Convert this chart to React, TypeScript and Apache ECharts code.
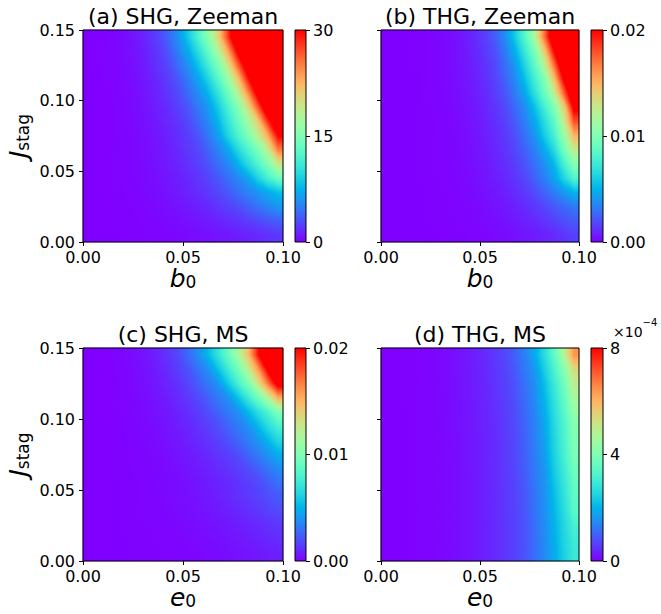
import React, { useEffect, useRef } from "react";
import * as echarts from "echarts";

// ---------- data ----------
// cell centres of the colour maps (20 columns in b0 / e0, 15 rows in J_stag)
const FIELD_CENTERS = [
  0.0025, 0.0075, 0.0125, 0.0175, 0.0225, 0.0275, 0.0325, 0.0375, 0.0425, 0.0475,
  0.0525, 0.0575, 0.0625, 0.0675, 0.0725, 0.0775, 0.0825, 0.0875, 0.0925, 0.0975,
];
const J_CENTERS = [
  0.005, 0.015, 0.025, 0.035, 0.045, 0.055, 0.065, 0.075, 0.085, 0.095, 0.105, 0.115,
  0.125, 0.135, 0.145,
];

const X_TICKS = [0, 0.05, 0.1];
const Y_TICKS = [0, 0.05, 0.1, 0.15];

// rows listed from top (J = 0.145) to bottom (J = 0.005)
// (a) SHG, Zeeman
const SHG_ZEEMAN = [
  [0, 0.02, 0.09, 0.24, 0.54, 0.96, 1.6, 2.5, 3.9, 5.8, 8.7, 12, 15.5, 20.5, 27.8, 36, 42, 48, 54, 60],
  [0, 0.02, 0.08, 0.22, 0.45, 0.84, 1.4, 2.1, 3.2, 5.0, 7.1, 10, 13.3, 17.5, 23.3, 31, 37, 43, 49, 55],
  [0, 0.02, 0.07, 0.19, 0.4, 0.72, 1.2, 1.9, 2.7, 4.2, 5.8, 8.3, 11.3, 14.7, 19.5, 26.3, 33, 39, 45, 51],
  [0, 0.01, 0.06, 0.16, 0.33, 0.63, 1.0, 1.6, 2.3, 3.3, 4.9, 6.7, 9.2, 12.5, 16.3, 21.5, 29, 36, 42, 48],
  [0, 0.01, 0.05, 0.14, 0.29, 0.54, 0.9, 1.35, 2.0, 2.8, 4.1, 5.5, 7.6, 10.4, 13.7, 18.1, 24.2, 31.5, 38, 44],
  [0, 0.01, 0.04, 0.12, 0.25, 0.45, 0.75, 1.2, 1.7, 2.4, 3.3, 4.7, 6.2, 8.7, 11.9, 15.1, 19.8, 26.5, 34, 40],
  [0, 0.01, 0.04, 0.1, 0.22, 0.39, 0.66, 1.0, 1.45, 2.0, 2.7, 4.0, 5.4, 7.6, 10.5, 13.4, 16.9, 21.2, 28.3, 34],
  [0, 0.01, 0.03, 0.09, 0.19, 0.33, 0.57, 0.87, 1.26, 1.74, 2.3, 3.2, 4.65, 6.3, 9.3, 12, 14.7, 18.4, 23, 30],
  [0, 0.01, 0.03, 0.08, 0.16, 0.3, 0.48, 0.75, 1.1, 1.5, 2.1, 2.7, 3.8, 5.1, 6.8, 9.6, 12.1, 14.6, 18.5, 25],
  [0, 0.01, 0.02, 0.07, 0.14, 0.26, 0.44, 0.66, 1.0, 1.35, 1.83, 2.4, 3.15, 4.3, 5.4, 7.3, 9.8, 12.2, 15, 19],
  [0, 0, 0.02, 0.06, 0.12, 0.22, 0.36, 0.54, 0.81, 1.1, 1.5, 2.0, 2.55, 3.3, 4.3, 5.3, 6.75, 9.2, 11.6, 13.8],
  [0, 0, 0.02, 0.05, 0.1, 0.18, 0.3, 0.45, 0.66, 0.93, 1.26, 1.65, 2.1, 2.7, 3.4, 4.3, 5.1, 5.9, 7.0, 8.0],
  [0, 0, 0.01, 0.03, 0.07, 0.13, 0.22, 0.33, 0.48, 0.69, 0.9, 1.2, 1.53, 1.95, 2.4, 2.94, 3.7, 4.5, 5.3, 6.1],
  [0, 0, 0.01, 0.02, 0.05, 0.09, 0.14, 0.22, 0.33, 0.45, 0.6, 0.78, 1.0, 1.26, 1.56, 1.9, 2.3, 2.75, 3.2, 3.7],
  [0, 0, 0.01, 0.01, 0.03, 0.05, 0.08, 0.12, 0.17, 0.24, 0.33, 0.43, 0.55, 0.7, 0.86, 1.05, 1.27, 1.5, 1.8, 2.1],
];

// (b) THG, Zeeman, in units of 1e-3
const THG_ZEEMAN_E3 = [
  [0, 0, 0, 0.02, 0.05, 0.12, 0.23, 0.4, 0.66, 1.04, 1.54, 2.4, 3.6, 5.8, 8.3, 11.5, 17, 23, 29, 35],
  [0, 0, 0, 0.02, 0.05, 0.1, 0.2, 0.36, 0.6, 0.94, 1.4, 2.0, 3.2, 4.8, 7.2, 9.7, 14.1, 20, 26, 32],
  [0, 0, 0, 0.02, 0.04, 0.09, 0.18, 0.32, 0.54, 0.84, 1.26, 1.8, 2.8, 4.0, 6.2, 8.6, 11.9, 17.2, 23, 29],
  [0, 0, 0, 0.01, 0.04, 0.09, 0.17, 0.3, 0.49, 0.76, 1.14, 1.64, 2.46, 3.58, 5.3, 7.6, 10, 14.4, 20.4, 26],
  [0, 0, 0, 0.01, 0.04, 0.08, 0.15, 0.28, 0.44, 0.7, 1.04, 1.5, 2.14, 3.2, 4.5, 6.7, 9.0, 12.3, 17.5, 23],
  [0, 0, 0, 0.01, 0.03, 0.07, 0.13, 0.24, 0.38, 0.6, 0.9, 1.3, 1.82, 2.7, 3.7, 5.4, 7.6, 9.9, 13.9, 20.6],
  [0, 0, 0, 0.01, 0.03, 0.06, 0.12, 0.2, 0.34, 0.54, 0.8, 1.16, 1.6, 2.3, 3.3, 4.6, 6.6, 8.7, 12.5, 18],
  [0, 0, 0, 0.01, 0.02, 0.05, 0.1, 0.18, 0.3, 0.48, 0.72, 1.02, 1.42, 1.94, 2.9, 3.9, 5.8, 7.8, 11, 15],
  [0, 0, 0, 0.01, 0.02, 0.05, 0.09, 0.16, 0.28, 0.42, 0.64, 0.92, 1.28, 1.74, 2.46, 3.36, 4.6, 6.5, 9.5, 12.5],
  [0, 0, 0, 0.01, 0.02, 0.04, 0.08, 0.15, 0.24, 0.38, 0.56, 0.82, 1.14, 1.54, 2.08, 2.92, 3.75, 5.2, 7.8, 10.2],
  [0, 0, 0, 0.01, 0.02, 0.04, 0.07, 0.13, 0.2, 0.32, 0.48, 0.7, 0.96, 1.32, 1.74, 2.46, 3.36, 4.42, 6.3, 8.2],
  [0, 0, 0, 0.01, 0.01, 0.03, 0.06, 0.1, 0.17, 0.26, 0.4, 0.56, 0.78, 1.06, 1.42, 1.86, 2.54, 3.3, 4.1, 5.0],
  [0, 0, 0, 0, 0.01, 0.02, 0.04, 0.08, 0.13, 0.2, 0.3, 0.42, 0.58, 0.8, 1.06, 1.38, 1.78, 2.24, 2.7, 3.16],
  [0, 0, 0, 0, 0, 0.02, 0.03, 0.06, 0.09, 0.14, 0.22, 0.3, 0.42, 0.58, 0.78, 1.0, 1.3, 1.64, 2.02, 2.3],
  [0, 0, 0, 0, 0, 0.01, 0.02, 0.04, 0.06, 0.09, 0.13, 0.19, 0.27, 0.37, 0.49, 0.64, 0.82, 1.04, 1.3, 1.6],
];

// (c) SHG, MS, in units of 1e-3
const SHG_MS_E3 = [
  [0, 0.01, 0.03, 0.09, 0.19, 0.36, 0.58, 0.9, 1.3, 1.82, 2.7, 3.7, 5.16, 7.0, 9.0, 11.4, 14.5, 19.5, 24, 29],
  [0, 0.01, 0.03, 0.08, 0.16, 0.3, 0.48, 0.76, 1.1, 1.52, 2.08, 2.96, 3.82, 5.46, 7.4, 9.4, 12.2, 15.8, 20.6, 25],
  [0, 0.01, 0.02, 0.06, 0.14, 0.25, 0.42, 0.64, 0.92, 1.28, 1.74, 2.38, 3.16, 3.92, 5.8, 7.8, 9.8, 13, 17, 21.2],
  [0, 0, 0.02, 0.05, 0.11, 0.2, 0.34, 0.52, 0.74, 1.04, 1.42, 1.86, 2.48, 3.18, 3.86, 5.46, 7.4, 9.4, 12, 15.3],
  [0, 0, 0.02, 0.04, 0.09, 0.17, 0.28, 0.42, 0.62, 0.86, 1.16, 1.52, 1.96, 2.56, 3.18, 3.82, 5.16, 6.72, 8.16, 10],
  [0, 0, 0.01, 0.03, 0.07, 0.14, 0.22, 0.34, 0.5, 0.7, 0.94, 1.24, 1.58, 2.0, 2.6, 3.22, 3.82, 5.16, 6.62, 7.9],
  [0, 0, 0.01, 0.03, 0.06, 0.11, 0.18, 0.28, 0.42, 0.58, 0.78, 1.02, 1.3, 1.64, 2.06, 2.68, 3.32, 3.94, 5.12, 6.38],
  [0, 0, 0.01, 0.02, 0.05, 0.09, 0.14, 0.22, 0.32, 0.46, 0.62, 0.8, 1.02, 1.3, 1.6, 1.96, 2.6, 3.26, 3.94, 4.82],
  [0, 0, 0.01, 0.02, 0.04, 0.07, 0.12, 0.18, 0.26, 0.36, 0.48, 0.64, 0.82, 1.04, 1.28, 1.58, 1.9, 2.44, 3.06, 3.68],
  [0, 0, 0.01, 0.01, 0.03, 0.06, 0.09, 0.14, 0.22, 0.3, 0.4, 0.52, 0.68, 0.84, 1.04, 1.28, 1.54, 1.84, 2.32, 2.94],
  [0, 0, 0, 0.01, 0.03, 0.05, 0.09, 0.13, 0.19, 0.27, 0.36, 0.47, 0.6, 0.76, 0.94, 1.16, 1.4, 1.66, 1.96, 2.3],
  [0, 0, 0, 0.01, 0.02, 0.04, 0.07, 0.11, 0.16, 0.22, 0.3, 0.39, 0.5, 0.63, 0.78, 0.96, 1.16, 1.37, 1.62, 1.9],
  [0, 0, 0, 0.01, 0.02, 0.03, 0.05, 0.08, 0.12, 0.16, 0.22, 0.29, 0.37, 0.46, 0.57, 0.71, 0.85, 1.01, 1.19, 1.4],
  [0, 0, 0, 0, 0.01, 0.02, 0.04, 0.06, 0.09, 0.13, 0.17, 0.22, 0.29, 0.36, 0.45, 0.55, 0.67, 0.79, 0.94, 1.1],
  [0, 0, 0, 0, 0.01, 0.02, 0.03, 0.05, 0.07, 0.09, 0.13, 0.16, 0.21, 0.26, 0.33, 0.4, 0.49, 0.58, 0.68, 0.8],
];

// (d) THG, MS, in units of 1e-4
const THG_MS_E4 = [
  [0, 0, 0.01, 0.02, 0.03, 0.06, 0.1, 0.15, 0.22, 0.31, 0.42, 0.55, 0.71, 0.98, 1.34, 1.84, 2.64, 3.5, 4.8, 6.4],
  [0, 0, 0.01, 0.02, 0.03, 0.06, 0.1, 0.14, 0.22, 0.3, 0.4, 0.53, 0.68, 0.9, 1.26, 1.6, 2.4, 3.2, 4.1, 5.4],
  [0, 0, 0.01, 0.01, 0.03, 0.06, 0.09, 0.14, 0.21, 0.29, 0.38, 0.5, 0.65, 0.83, 1.17, 1.5, 2.16, 2.96, 3.76, 4.96],
  [0, 0, 0.01, 0.01, 0.03, 0.05, 0.09, 0.14, 0.2, 0.28, 0.37, 0.49, 0.63, 0.8, 1.11, 1.45, 2.03, 2.8, 3.57, 4.64],
  [0, 0, 0, 0.01, 0.03, 0.05, 0.09, 0.13, 0.19, 0.27, 0.36, 0.47, 0.6, 0.76, 1.06, 1.39, 1.9, 2.66, 3.38, 4.32],
  [0, 0, 0, 0.01, 0.03, 0.05, 0.08, 0.13, 0.18, 0.26, 0.35, 0.45, 0.58, 0.74, 1.02, 1.35, 1.81, 2.57, 3.25, 4.1],
  [0, 0, 0, 0.01, 0.03, 0.05, 0.08, 0.12, 0.18, 0.25, 0.34, 0.44, 0.57, 0.73, 0.99, 1.33, 1.74, 2.52, 3.18, 4.0],
  [0, 0, 0, 0.01, 0.03, 0.05, 0.08, 0.12, 0.18, 0.25, 0.34, 0.44, 0.57, 0.72, 0.97, 1.3, 1.68, 2.47, 3.13, 3.92],
  [0, 0, 0, 0.01, 0.03, 0.05, 0.08, 0.12, 0.18, 0.25, 0.33, 0.43, 0.56, 0.7, 0.94, 1.27, 1.59, 2.35, 2.98, 3.76],
  [0, 0, 0, 0.01, 0.03, 0.05, 0.08, 0.12, 0.17, 0.24, 0.33, 0.43, 0.55, 0.69, 0.91, 1.23, 1.55, 2.24, 2.86, 3.6],
  [0, 0, 0, 0.01, 0.03, 0.05, 0.08, 0.12, 0.17, 0.24, 0.33, 0.42, 0.54, 0.68, 0.88, 1.2, 1.52, 2.13, 2.75, 3.5],
  [0, 0, 0, 0.01, 0.03, 0.05, 0.08, 0.12, 0.17, 0.24, 0.32, 0.42, 0.54, 0.67, 0.86, 1.18, 1.5, 2.04, 2.65, 3.4],
  [0, 0, 0, 0.01, 0.03, 0.05, 0.08, 0.12, 0.17, 0.24, 0.32, 0.42, 0.53, 0.66, 0.83, 1.15, 1.47, 1.97, 2.57, 3.16],
  [0, 0, 0, 0.01, 0.03, 0.05, 0.08, 0.12, 0.17, 0.24, 0.32, 0.42, 0.53, 0.66, 0.83, 1.14, 1.46, 1.92, 2.5, 3.0],
  [0, 0, 0, 0.01, 0.03, 0.05, 0.08, 0.12, 0.17, 0.24, 0.32, 0.42, 0.53, 0.66, 0.83, 1.14, 1.45, 1.89, 2.44, 2.92],
];

const TITLES = ["(a) SHG, Zeeman", "(b) THG, Zeeman", "(c) SHG, MS", "(d) THG, MS"];
const X_VARS = ["b", "b", "e", "e"];
const UNITS = [1, 1e-3, 1e-3, 1e-4];
const CB_TICKS_A = [0, 15, 30];
const CB_TICKS_B = [0, 0.01, 0.02];
const CB_TICKS_C = [0, 0.01, 0.02];
const CB_TICKS_D = [0, 4e-4, 8e-4];

// ---------- style / layout ----------
const FONT = "DejaVu Sans";
const RAINBOW = [
  "#8000ff", "#6628fe", "#4d4ffc", "#3374f8", "#1a96f3", "#00b4eb", "#1acee3",
  "#33e3da", "#4df3ce", "#66fcc2", "#80ffb4", "#99fca6", "#b3f396", "#cce385",
  "#e6ce74", "#ffb462", "#ff964f", "#ff743b", "#ff4f28", "#ff2814", "#ff0000",
];

const LAYOUT = [
  { plot: { left: 83, top: 30, width: 200, height: 212 }, cb: { left: 295, top: 30, width: 11, height: 212 }, yLabels: true },
  { plot: { left: 381, top: 30, width: 198, height: 212 }, cb: { left: 591, top: 30, width: 12, height: 212 }, yLabels: false },
  { plot: { left: 83, top: 348, width: 200, height: 213 }, cb: { left: 295, top: 348, width: 11, height: 213 }, yLabels: true },
  { plot: { left: 381, top: 348, width: 198, height: 213 }, cb: { left: 591, top: 348, width: 12, height: 213 }, yLabels: false },
];

const PANELS = [
  { values: SHG_ZEEMAN, cbTicks: CB_TICKS_A, cbFmt: (v: number) => String(Math.round(v)) },
  { values: THG_ZEEMAN_E3, cbTicks: CB_TICKS_B, cbFmt: (v: number) => v.toFixed(2) },
  { values: SHG_MS_E3, cbTicks: CB_TICKS_C, cbFmt: (v: number) => v.toFixed(2) },
  { values: THG_MS_E4, cbTicks: CB_TICKS_D, cbFmt: (v: number) => String(Math.round(v * 1e4)) },
];

const TICK_FONT = 16;
const TITLE_FONT = 22;
const LABEL_FONT = 25;
const SUB_FONT = 17;
const tickStyle = { show: true, length: 4, inside: false, lineStyle: { color: "#000", width: 1 } };
const labelRich = {
  i: { fontSize: LABEL_FONT, fontStyle: "italic", fontFamily: FONT, color: "#000", lineHeight: LABEL_FONT },
  s: { fontSize: SUB_FONT, fontFamily: FONT, color: "#000", lineHeight: 12, verticalAlign: "bottom" },
};

// ---------- colour helpers (rainbow colormap, same stops as the visualMap) ----------
const RGB = RAINBOW.map((h) => [
  parseInt(h.slice(1, 3), 16),
  parseInt(h.slice(3, 5), 16),
  parseInt(h.slice(5, 7), 16),
]);
function cmap(t: number): string {
  const n = RGB.length - 1;
  const tt = Math.max(0, Math.min(1, t)) * n;
  const i = Math.min(Math.floor(tt), n - 1);
  const f = tt - i;
  const c = [0, 1, 2].map((k) => Math.round(RGB[i][k] + (RGB[i + 1][k] - RGB[i][k]) * f));
  return `rgb(${c[0]},${c[1]},${c[2]})`;
}
// fill of a triangle whose corner values are linearly shaded (Gouraud-like)
function triFill(P: number[][], T: number[]): any {
  const [p1, p2, p3] = P;
  const [t1, t2, t3] = T;
  const clamp = (v: number) => Math.max(0, Math.min(1, v));
  const lo = clamp(Math.min(t1, t2, t3));
  const hi = clamp(Math.max(t1, t2, t3));
  if (hi - lo < 1e-4) return cmap(lo);
  const d2x = p2[0] - p1[0], d2y = p2[1] - p1[1];
  const d3x = p3[0] - p1[0], d3y = p3[1] - p1[1];
  const det = d2x * d3y - d3x * d2y;
  if (Math.abs(det) < 1e-9) return cmap((t1 + t2 + t3) / 3);
  const dt2 = t2 - t1, dt3 = t3 - t1;
  const a = (dt2 * d3y - dt3 * d2y) / det;
  const b = (d2x * dt3 - d3x * dt2) / det;
  const g = Math.hypot(a, b);
  if (g < 1e-9) return cmap(lo);
  const ux = a / g, uy = b / g;
  const sLo = (lo - t1) / g, sHi = (hi - t1) / g;
  const n = RAINBOW.length - 1;
  const stops: any[] = [{ offset: 0, color: cmap(lo) }];
  for (let k = 1; k < n; k++) {
    const tk = k / n;
    if (tk > lo && tk < hi) stops.push({ offset: (tk - lo) / (hi - lo), color: RAINBOW[k] });
  }
  stops.push({ offset: 1, color: cmap(hi) });
  return new echarts.graphic.LinearGradient(
    p1[0] + ux * sLo, p1[1] + uy * sLo, p1[0] + ux * sHi, p1[1] + uy * sHi, stops, true
  );
}

function buildOption() {
  const grid: any[] = [];
  const xAxis: any[] = [];
  const yAxis: any[] = [];
  const series: any[] = [];
  const visualMap: any[] = [];
  const graphic: any[] = [];

  const nRows = J_CENTERS.length;
  const nCols = FIELD_CENTERS.length;
  const XN = [X_TICKS[0], ...FIELD_CENTERS, X_TICKS[X_TICKS.length - 1]];
  const YN = [Y_TICKS[0], ...J_CENTERS, Y_TICKS[Y_TICKS.length - 1]];

  PANELS.forEach((p, k) => {
    const L = LAYOUT[k];
    const unit = UNITS[k];
    const cbMin = p.cbTicks[0];
    const cbMax = p.cbTicks[p.cbTicks.length - 1];

    // heatmap grid
    const gH = grid.length;
    grid.push({ ...L.plot, show: false });
    const xH = xAxis.length;
    xAxis.push({ type: "category", gridIndex: gH, data: FIELD_CENTERS.map(String), show: false });
    const yH = yAxis.length;
    yAxis.push({ type: "category", gridIndex: gH, data: J_CENTERS.map(String), show: false });

    // axes grid (same rectangle) with the real value scales
    const gA = grid.length;
    grid.push({ ...L.plot, show: true, z: 10, backgroundColor: "transparent", borderColor: "#000", borderWidth: 1 });
    const xA = xAxis.length;
    xAxis.push({
      type: "value",
      gridIndex: gA,
      min: X_TICKS[0],
      max: X_TICKS[X_TICKS.length - 1],
      interval: X_TICKS[1] - X_TICKS[0],
      z: 10,
      axisLine: { show: false },
      axisTick: tickStyle,
      splitLine: { show: false },
      axisLabel: { fontSize: TICK_FONT, fontFamily: FONT, color: "#000", margin: 7, formatter: (v: number) => v.toFixed(2) },
      name: `{i|${X_VARS[k]}}{s|0}`,
      nameLocation: "middle",
      nameGap: 20,
      nameTextStyle: { color: "#000", fontFamily: FONT, rich: labelRich },
    });
    const yA = yAxis.length;
    yAxis.push({
      type: "value",
      gridIndex: gA,
      min: Y_TICKS[0],
      max: Y_TICKS[Y_TICKS.length - 1],
      interval: Y_TICKS[1] - Y_TICKS[0],
      z: 10,
      axisLine: { show: false },
      axisTick: tickStyle,
      splitLine: { show: false },
      axisLabel: {
        show: L.yLabels,
        fontSize: TICK_FONT,
        fontFamily: FONT,
        color: "#000",
        margin: 8,
        formatter: (v: number) => v.toFixed(2),
      },
      name: L.yLabels ? "{i|J}{s|stag}" : "",
      nameLocation: "middle",
      nameGap: 52,
      nameTextStyle: { color: "#000", fontFamily: FONT, rich: labelRich },
    });

    // colorbar grid
    const gC = grid.length;
    grid.push({ ...L.cb, show: true, z: 10, backgroundColor: "transparent", borderColor: "#000", borderWidth: 1 });
    const xC = xAxis.length;
    xAxis.push({ type: "category", gridIndex: gC, data: ["cb"], show: false });
    const yC = yAxis.length;
    yAxis.push({
      type: "value",
      gridIndex: gC,
      position: "right",
      min: cbMin,
      max: cbMax,
      interval: p.cbTicks[1] - p.cbTicks[0],
      z: 10,
      axisLine: { show: false },
      axisTick: tickStyle,
      splitLine: { show: false },
      axisLabel: { fontSize: TICK_FONT, fontFamily: FONT, color: "#000", margin: 7, formatter: p.cbFmt },
    });

    // heatmap cells (base layer)
    const data: any[] = [];
    p.values.forEach((row, r) => {
      row.forEach((v, i) => {
        data.push([i, nRows - 1 - r, Math.min(v * unit, cbMax)]);
      });
    });
    const heatIndex = series.length;
    series.push({
      type: "heatmap",
      xAxisIndex: xH,
      yAxisIndex: yH,
      data,
      progressive: 0,
      silent: true,
      itemStyle: { borderWidth: 0 },
    });

    // smooth shading between the same cell values (drawn on the value axes)
    const val = (a: number, b: number) => {
      const col = Math.max(0, Math.min(nCols - 1, a - 1));
      const rowBU = Math.max(0, Math.min(nRows - 1, b - 1));
      return p.values[nRows - 1 - rowBU][col] * unit;
    };
    const quads: any[] = [];
    for (let a = 0; a < XN.length - 1; a++) {
      for (let b = 0; b < YN.length - 1; b++) {
        quads.push([XN[a], YN[b], XN[a + 1], YN[b + 1], val(a, b), val(a + 1, b), val(a, b + 1), val(a + 1, b + 1)]);
      }
    }
    series.push({
      type: "custom",
      xAxisIndex: xA,
      yAxisIndex: yA,
      data: quads,
      z: 3,
      silent: true,
      progressive: 0,
      clip: true,
      renderItem: (_params: any, api: any) => {
        const x0 = api.value(0), y0 = api.value(1), x1 = api.value(2), y1 = api.value(3);
        const t00 = api.value(4) / cbMax, t10 = api.value(5) / cbMax;
        const t01 = api.value(6) / cbMax, t11 = api.value(7) / cbMax;
        const p00 = api.coord([x0, y0]), p10 = api.coord([x1, y0]);
        const p01 = api.coord([x0, y1]), p11 = api.coord([x1, y1]);
        const f1 = triFill([p00, p10, p01], [t00, t10, t01]);
        const f2 = triFill([p10, p11, p01], [t10, t11, t01]);
        return {
          type: "group",
          children: [
            { type: "polygon", shape: { points: [p00, p10, p01] }, style: { fill: f1, stroke: f1, lineWidth: 0.7 } },
            { type: "polygon", shape: { points: [p10, p11, p01] }, style: { fill: f2, stroke: f2, lineWidth: 0.7 } },
          ],
        };
      },
    });

    // colorbar
    series.push({
      type: "bar",
      xAxisIndex: xC,
      yAxisIndex: yC,
      data: [cbMax],
      barWidth: "100%",
      silent: true,
      itemStyle: {
        color: new echarts.graphic.LinearGradient(
          0, 1, 0, 0,
          RAINBOW.map((c, i) => ({ offset: i / (RAINBOW.length - 1), color: c }))
        ),
      },
    });
    visualMap.push({
      type: "continuous",
      show: false,
      seriesIndex: heatIndex,
      dimension: 2,
      min: cbMin,
      max: cbMax,
      inRange: { color: RAINBOW },
    });

    // panel title
    graphic.push({
      type: "text",
      x: L.plot.left + L.plot.width / 2,
      y: L.plot.top - 14,
      style: {
        text: TITLES[k],
        fontSize: TITLE_FONT,
        fontFamily: FONT,
        fill: "#000",
        textAlign: "center",
        textVerticalAlign: "middle",
        align: "center",
        verticalAlign: "middle",
      },
    });
  });

  // offset text of colorbar (d): ×10^-4
  const Ld = LAYOUT[3];
  graphic.push({
    type: "text",
    x: Ld.cb.left + 22,
    y: Ld.cb.top - 9,
    style: {
      text: "{n|×10}{p|−4}",
      fill: "#000",
      textAlign: "left",
      textVerticalAlign: "bottom",
      align: "left",
      verticalAlign: "bottom",
      rich: {
        n: { fontSize: 14, fontFamily: FONT, fill: "#000", color: "#000", lineHeight: 16, verticalAlign: "bottom" },
        p: { fontSize: 10, fontFamily: FONT, fill: "#000", color: "#000", lineHeight: 22, verticalAlign: "top" },
      },
    },
  });

  return {
    animation: false,
    backgroundColor: "#ffffff",
    grid,
    xAxis,
    yAxis,
    series,
    visualMap,
    graphic,
  };
}

export default function App() {
  const ref = useRef<HTMLDivElement>(null);
  useEffect(() => {
    if (!ref.current) return;
    const chart = echarts.init(ref.current, undefined, { renderer: "svg" });
    chart.setOption(buildOption() as any);
    return () => chart.dispose();
  }, []);
  return (
    <div
      ref={ref}
      style={{ position: "absolute", left: 0, top: 0, width: 661, height: 614, background: "#fff" }}
    />
  );
}
